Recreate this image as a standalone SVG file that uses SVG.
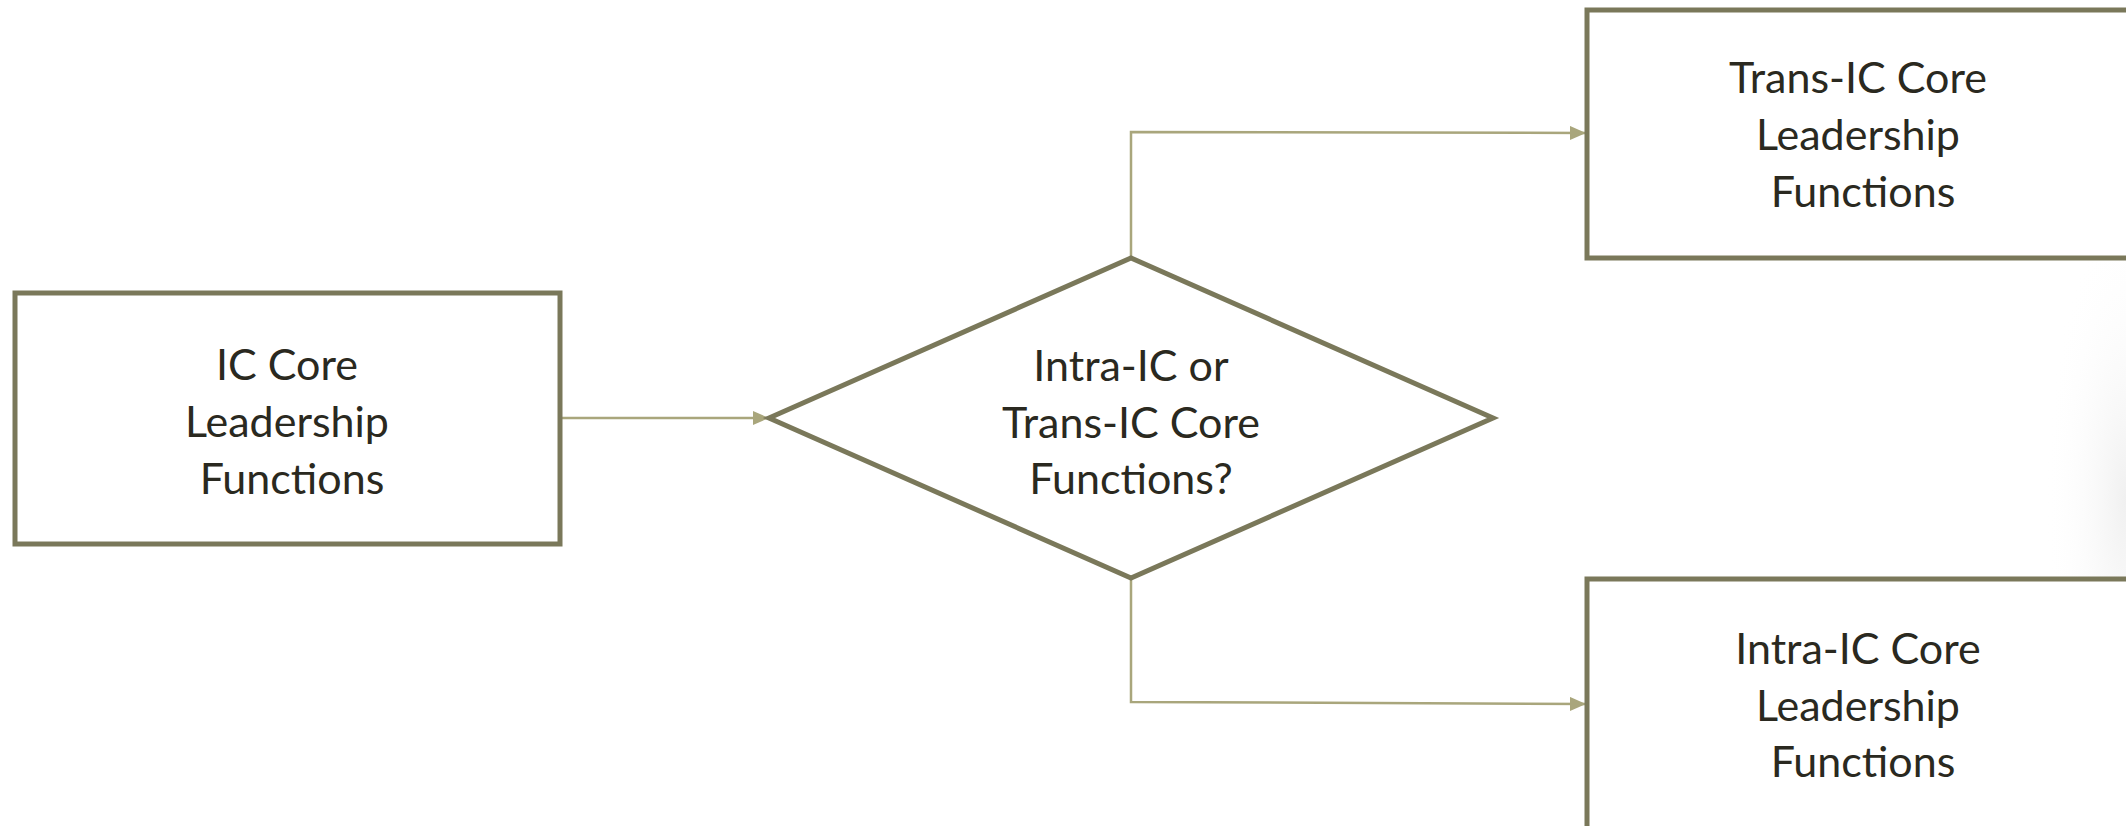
<svg xmlns="http://www.w3.org/2000/svg" width="2126" height="826" viewBox="0 0 2126 826">
<style>
.box{fill:#ffffff;stroke:#7a785a;stroke-width:5;stroke-linejoin:miter}
.conn{fill:none;stroke:#a9a67c;stroke-width:2.5}
.lbl{font-family:Lato,"Open Sans",sans-serif;font-size:43px;fill:#2a2920;text-anchor:middle}
</style>
<defs>
<marker id="arr" viewBox="0 0 10 10" refX="10" refY="5" markerWidth="16" markerHeight="14" markerUnits="userSpaceOnUse" orient="auto" preserveAspectRatio="none">
<path d="M0,0 L10,5 L0,10 z" fill="#a9a67c"/>
</marker>
<radialGradient id="shade" cx="1" cy="0.5" r="0.55">
<stop offset="0" stop-color="#f0f0f0"/>
<stop offset="1" stop-color="#ffffff" stop-opacity="0"/>
</radialGradient>
</defs>
<rect width="2126" height="826" fill="#ffffff"/>
<rect x="1980" y="240" width="146" height="520" fill="url(#shade)"/>
<g id="connectors">
<path class="conn" d="M560,418 L769,418" marker-end="url(#arr)"/>
<path class="conn" d="M1131,258 L1131,132 L1586,133" marker-end="url(#arr)"/>
<path class="conn" d="M1131,578 L1131,702 L1586,704" marker-end="url(#arr)"/>
</g>
<g id="node-ic-core">
<rect class="box" x="15" y="293" width="545" height="251"/>
<text class="lbl" x="287" y="380">IC Core</text>
<text class="lbl" x="287" y="437">Leadership</text>
<text class="lbl" x="292" y="494">Functions</text>
</g>
<g id="node-decision">
<polygon class="box" points="769,418 1131,258 1493,418 1131,578"/>
<text class="lbl" x="1131" y="381">Intra-IC or</text>
<text class="lbl" x="1131" y="438">Trans-IC Core</text>
<text class="lbl" x="1131" y="494">Functions?</text>
</g>
<g id="node-trans">
<rect class="box" x="1587" y="10" width="560" height="248"/>
<text class="lbl" x="1858" y="93">Trans-IC Core</text>
<text class="lbl" x="1858" y="150">Leadership</text>
<text class="lbl" x="1863" y="207">Functions</text>
</g>
<g id="node-intra">
<rect class="box" x="1587" y="579" width="560" height="280"/>
<text class="lbl" x="1858" y="664">Intra-IC Core</text>
<text class="lbl" x="1858" y="721">Leadership</text>
<text class="lbl" x="1863" y="777">Functions</text>
</g>
</svg>
